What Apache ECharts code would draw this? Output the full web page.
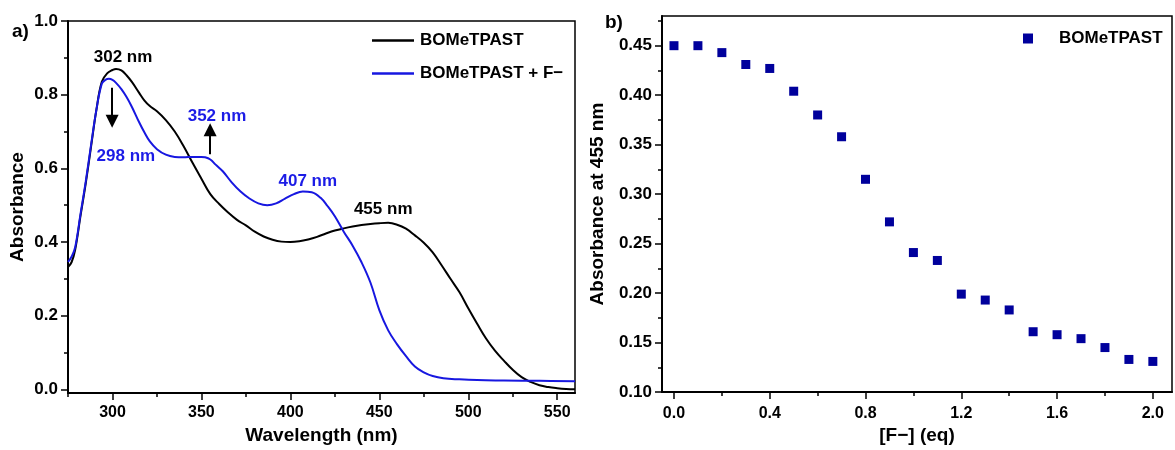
<!DOCTYPE html>
<html>
<head>
<meta charset="utf-8">
<script src="https://cdn.jsdelivr.net/npm/echarts@6/dist/echarts.min.js"></script>
<style>
  html, body { margin: 0; padding: 0; background: #fff; }
  #chart { width: 1175px; height: 450px; }
</style>
</head>
<body>
<div id="chart"></div>
<script>
// UV-vis spectra of BOMeTPAST before and after fluoride addition
const blackWavelength = [275,277,279,282,285,288,291,294,297,300,302,305,308,311,315,318,321,325,330,335,340,345,350,355,360,365,370,375,380,385,390,395,400,405,410,415,420,425,430,435,440,445,450,455,460,465,470,475,480,485,490,495,500,505,510,515,520,525,530,535,540,545,550,555,560];
const blackAbsorbance = [0.332,0.345,0.378,0.470,0.560,0.660,0.760,0.835,0.858,0.867,0.870,0.866,0.852,0.834,0.805,0.784,0.769,0.755,0.731,0.700,0.660,0.615,0.572,0.530,0.503,0.480,0.460,0.445,0.428,0.415,0.406,0.401,0.400,0.402,0.407,0.414,0.423,0.431,0.437,0.442,0.446,0.449,0.451,0.452,0.447,0.436,0.418,0.398,0.372,0.337,0.300,0.264,0.220,0.178,0.138,0.105,0.078,0.053,0.033,0.020,0.011,0.006,0.003,0.001,0.000];

const blueWavelength = [275,277,279,282,285,288,291,294,296,298,300,302,305,308,311,315,318,321,325,330,335,340,345,350,352,355,358,362,367,372,377,382,387,392,397,402,407,412,417,421,425,430,435,440,445,450,455,460,465,470,475,480,486,495,505,520,540,560];
const blueAbsorbance = [0.346,0.360,0.385,0.475,0.565,0.665,0.760,0.830,0.840,0.843,0.840,0.832,0.815,0.793,0.766,0.725,0.697,0.673,0.652,0.637,0.631,0.630,0.631,0.631,0.630,0.624,0.610,0.592,0.562,0.537,0.518,0.505,0.500,0.505,0.518,0.530,0.537,0.535,0.520,0.497,0.470,0.428,0.390,0.345,0.290,0.215,0.160,0.122,0.090,0.062,0.046,0.036,0.030,0.027,0.025,0.024,0.023,0.022];

// Titration: absorbance at 455 nm vs equivalents of F−
const fluorideEq = [0.0,0.1,0.2,0.3,0.4,0.5,0.6,0.7,0.8,0.9,1.0,1.1,1.2,1.3,1.4,1.5,1.6,1.7,1.8,1.9,2.0];
const abs455 = [0.450,0.450,0.443,0.431,0.427,0.404,0.380,0.358,0.315,0.272,0.241,0.233,0.199,0.193,0.183,0.161,0.158,0.154,0.145,0.133,0.131];

// Tick values
const spectrumXTicks = [300,350,400,450,500,550];
const spectrumXMinor = [275,325,375,425,475,525];
const spectrumYTicks = [0.0,0.2,0.4,0.6,0.8,1.0];
const spectrumYMinor = [0.1,0.3,0.5,0.7,0.9];
const titrationXTicks = [0.0,0.4,0.8,1.2,1.6,2.0];
const titrationXMinor = [0.2,0.6,1.0,1.4,1.8];
const titrationYTicks = [0.10,0.15,0.20,0.25,0.30,0.35,0.40,0.45];
const titrationYMinor = [0.125,0.175,0.225,0.275,0.325,0.375,0.425,0.475];

// Peak annotations anchored at the peak they name
const peakNotes = [
  { wl: 302, a: 0.870, text: '302 nm', color: '#000000', offset: [7, -12] },
  { wl: 298, a: 0.843, text: '298 nm', color: '#1c1ce6', offset: [17, 77] },
  { wl: 352, a: 0.631, text: '352 nm', color: '#1c1ce6', offset: [12, -41] },
  { wl: 407, a: 0.537, text: '407 nm', color: '#1c1ce6', offset: [5, -10] },
  { wl: 455, a: 0.452, text: '455 nm', color: '#000000', offset: [-5, -14] }
];
// Change arrows (start, end) in data units
const changeArrows = [
  [[299.8, 0.819], [299.8, 0.728]],
  [[354.9, 0.638], [354.9, 0.705]]
];

const FONT = "'Liberation Sans', Arial, sans-serif";
const BLUE = '#1717e0';
const NAVY = '#00009c';

const zip = (xs, ys) => xs.map((x, i) => [x, ys[i]]);

function axisCommon(extra) {
  return Object.assign({
    type: 'value',
    splitLine: { show: false },
    axisLine: { show: true, onZero: false, lineStyle: { color: '#000', width: 2 } },
    axisTick: { show: true, inside: false, length: 7, lineStyle: { color: '#000', width: 1.5 } },
    axisLabel: { color: '#000', fontFamily: FONT, fontWeight: 'bold', fontSize: 16 },
    nameTextStyle: { color: '#000', fontFamily: FONT, fontWeight: 'bold', fontSize: 19 },
    nameLocation: 'middle'
  }, extra);
}
// Shorter unlabelled ticks between the major ones
function minorAxis(extra, values) {
  return Object.assign({
    type: 'value',
    splitLine: { show: false },
    axisLine: { show: false, onZero: false },
    axisLabel: { show: false },
    axisTick: { show: true, inside: false, length: 4, customValues: values, lineStyle: { color: '#000', width: 1.5 } }
  }, extra);
}

const option = {
  backgroundColor: '#fff',
  animation: false,
  grid: [
    { left: 68, top: 21, right: 600, bottom: 56, show: true, borderColor: '#000', borderWidth: 1.5 },
    { left: 662, top: 16, right: 3, bottom: 53, show: true, borderColor: '#000', borderWidth: 1.5 }
  ],
  xAxis: [
    axisCommon({
      gridIndex: 0, position: 'bottom', min: 275, max: 560, name: 'Wavelength (nm)', nameGap: 33,
      axisTick: { show: true, length: 7, customValues: spectrumXTicks, lineStyle: { color: '#000', width: 1.5 } },
      axisLabel: { color: '#000', fontFamily: FONT, fontWeight: 'bold', fontSize: 16, margin: 12,
                   customValues: spectrumXTicks, formatter: v => String(Math.round(v)) }
    }),
    minorAxis({ gridIndex: 0, position: 'bottom', min: 275, max: 560 }, spectrumXMinor),
    axisCommon({
      gridIndex: 1, position: 'bottom', min: -0.05, max: 2.08, name: '[F\u2212] (eq)', nameGap: 32,
      axisTick: { show: true, length: 7, customValues: titrationXTicks, lineStyle: { color: '#000', width: 1.5 } },
      axisLabel: { color: '#000', fontFamily: FONT, fontWeight: 'bold', fontSize: 16, margin: 13,
                   customValues: titrationXTicks, formatter: v => v.toFixed(1) }
    }),
    minorAxis({ gridIndex: 1, position: 'bottom', min: -0.05, max: 2.08 }, titrationXMinor)
  ],
  yAxis: [
    axisCommon({
      gridIndex: 0, position: 'left', min: -0.01, max: 1.0, name: 'Absorbance', nameGap: 41,
      axisTick: { show: true, length: 7, customValues: spectrumYTicks, lineStyle: { color: '#000', width: 1.5 } },
      axisLabel: { color: '#000', fontFamily: FONT, fontWeight: 'bold', fontSize: 17, margin: 10,
                   customValues: spectrumYTicks, formatter: v => v.toFixed(1) }
    }),
    minorAxis({ gridIndex: 0, position: 'left', min: -0.01, max: 1.0 }, spectrumYMinor),
    axisCommon({
      gridIndex: 1, position: 'left', min: 0.10, max: 0.48, name: 'Absorbance at 455 nm', nameGap: 55,
      axisTick: { show: true, length: 7, customValues: titrationYTicks, lineStyle: { color: '#000', width: 1.5 } },
      axisLabel: { color: '#000', fontFamily: FONT, fontWeight: 'bold', fontSize: 17, margin: 10,
                   customValues: titrationYTicks, formatter: v => v.toFixed(2) }
    }),
    minorAxis({ gridIndex: 1, position: 'left', min: 0.10, max: 0.48 }, titrationYMinor)
  ],
  legend: [
    {
      left: 367, top: 27, orient: 'vertical', itemGap: 16, itemWidth: 42, itemHeight: 2.5,
      data: [{ name: 'BOMeTPAST', icon: 'rect' }, { name: 'BOMeTPAST + F\u2212', icon: 'rect' }],
      textStyle: { color: '#000', fontFamily: FONT, fontWeight: 'bold', fontSize: 17, padding: [0, 0, 0, 1] }
    },
    {
      left: 1018, top: 25, itemWidth: 10, itemHeight: 10, icon: 'rect',
      data: ['A455'],
      formatter: () => 'BOMeTPAST',
      textStyle: { color: '#000', fontFamily: FONT, fontWeight: 'bold', fontSize: 17, padding: [0, 0, 0, 21] }
    }
  ],
  graphic: [
    { type: 'text', left: 12, top: 22, style: { text: 'a)', font: "bold 19px 'Liberation Sans', Arial", fill: '#000' } },
    { type: 'text', left: 605, top: 13, style: { text: 'b)', font: "bold 19px 'Liberation Sans', Arial", fill: '#000' } }
  ],
  series: [
    {
      name: 'BOMeTPAST', type: 'line', xAxisIndex: 0, yAxisIndex: 0,
      data: zip(blackWavelength, blackAbsorbance), symbol: 'none', smooth: 0.4,
      lineStyle: { color: '#000', width: 2 }, itemStyle: { color: '#000' }, z: 3,
      markPoint: {
        symbol: 'circle', symbolSize: 0, silent: true,
        data: peakNotes.filter(p => p.color === '#000000').map(p => ({
          coord: [p.wl, p.a],
          label: { show: true, position: 'inside', offset: p.offset, formatter: p.text,
                   color: p.color, fontFamily: FONT, fontWeight: 'bold', fontSize: 17 }
        }))
      }
    },
    {
      name: 'BOMeTPAST + F\u2212', type: 'line', xAxisIndex: 0, yAxisIndex: 0,
      data: zip(blueWavelength, blueAbsorbance), symbol: 'none', smooth: 0.4,
      lineStyle: { color: BLUE, width: 2 }, itemStyle: { color: BLUE }, z: 3,
      markPoint: {
        symbol: 'circle', symbolSize: 0, silent: true,
        data: peakNotes.filter(p => p.color !== '#000000').map(p => ({
          coord: [p.wl, p.a],
          label: { show: true, position: 'inside', offset: p.offset, formatter: p.text,
                   color: p.color, fontFamily: FONT, fontWeight: 'bold', fontSize: 17 }
        }))
      }
    },
    {
      name: 'arrows', type: 'lines', coordinateSystem: 'cartesian2d', xAxisIndex: 0, yAxisIndex: 0,
      data: changeArrows.map(c => ({ coords: c })),
      symbol: ['none', 'triangle'], symbolSize: [9, 13],
      lineStyle: { color: '#000', width: 2, curveness: 0, opacity: 1 },
      itemStyle: { color: '#000' }, silent: true, z: 4
    },
    {
      name: 'A455', type: 'scatter', xAxisIndex: 2, yAxisIndex: 2,
      data: zip(fluorideEq, abs455), symbol: 'rect', symbolSize: 9,
      itemStyle: { color: NAVY, opacity: 1 }
    }
  ]
};

const chart = echarts.init(document.getElementById('chart'), null, { renderer: 'canvas' });
chart.setOption(option);
</script>
</body>
</html>
